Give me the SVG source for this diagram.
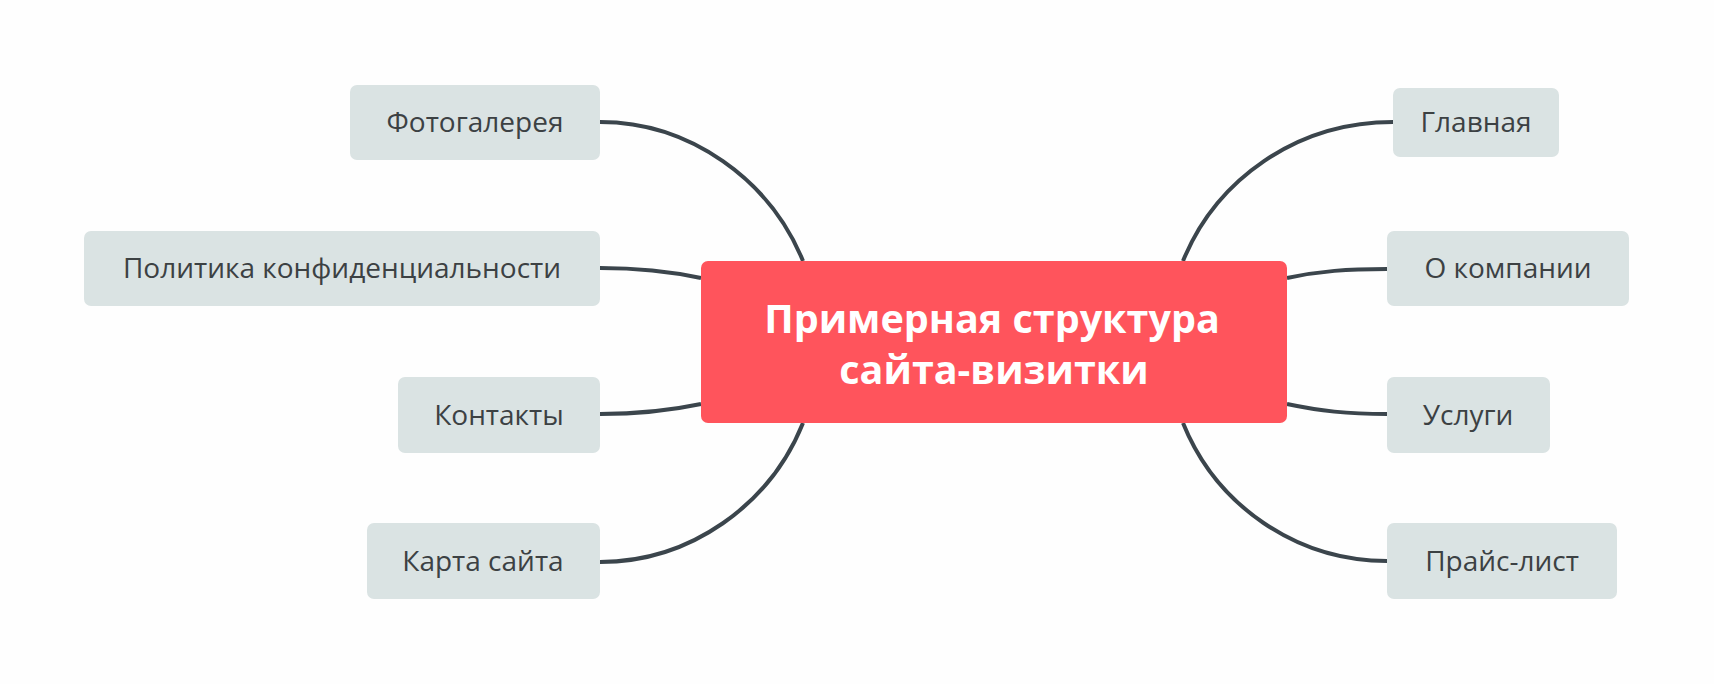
<svg xmlns="http://www.w3.org/2000/svg" width="1714" height="684" viewBox="0 0 1714 684">
<style>
.bg{fill:#fefefe}
.edge{fill:none;stroke:#3b454c;stroke-width:4;stroke-linecap:butt}
.box{fill:#dae3e3}
.lbl{font-family:"Open Sans","Noto Sans",sans-serif;font-size:28px;fill:#3c4143;text-anchor:middle}
.root{fill:#ff545c}
.rootlbl{font-family:"Open Sans","Noto Sans",sans-serif;font-size:39.5px;font-weight:bold;fill:#ffffff;text-anchor:middle}
</style>
<rect class="bg" x="0" y="0" width="1714" height="684"/>
<g id="connectors">
<path class="edge" d="M600,122 C690,122 770,180 803,261"/>
<path class="edge" d="M600,268 C640,268 668,271 701,278"/>
<path class="edge" d="M600,414 C640,414 668,411 701,404"/>
<path class="edge" d="M600,562 C690,562 770,505 803,423"/>
<path class="edge" d="M1393,122 C1296,122 1216,180 1183,261"/>
<path class="edge" d="M1387,269 C1347,269 1320,271 1287,278"/>
<path class="edge" d="M1387,414 C1347,414 1320,411 1287,404"/>
<path class="edge" d="M1387,561 C1296,561 1216,505 1183,423"/>
</g>
<g id="root">
<rect class="root" x="701" y="261" width="586" height="162" rx="7"/>
<text class="rootlbl" x="992" y="333">Примерная структура</text>
<text class="rootlbl" x="994" y="384">сайта-визитки</text>
</g>
<g id="n-foto">
<rect class="box" x="350" y="85" width="250" height="75" rx="7"/>
<text class="lbl" x="475" y="132">Фотогалерея</text>
</g>
<g id="n-policy">
<rect class="box" x="84" y="231" width="516" height="75" rx="7"/>
<text class="lbl" x="342" y="278">Политика конфиденциальности</text>
</g>
<g id="n-contacts">
<rect class="box" x="398" y="377" width="202" height="76" rx="7"/>
<text class="lbl" x="499" y="425">Контакты</text>
</g>
<g id="n-sitemap">
<rect class="box" x="367" y="523" width="233" height="76" rx="7"/>
<text class="lbl" x="483" y="571">Карта сайта</text>
</g>
<g id="n-main">
<rect class="box" x="1393" y="88" width="166" height="69" rx="7"/>
<text class="lbl" x="1476" y="132">Главная</text>
</g>
<g id="n-about">
<rect class="box" x="1387" y="231" width="242" height="75" rx="7"/>
<text class="lbl" x="1508" y="278">О компании</text>
</g>
<g id="n-services">
<rect class="box" x="1387" y="377" width="163" height="76" rx="7"/>
<text class="lbl" x="1468" y="425">Услуги</text>
</g>
<g id="n-price">
<rect class="box" x="1387" y="523" width="230" height="76" rx="7"/>
<text class="lbl" x="1502" y="571">Прайс-лист</text>
</g>
</svg>
